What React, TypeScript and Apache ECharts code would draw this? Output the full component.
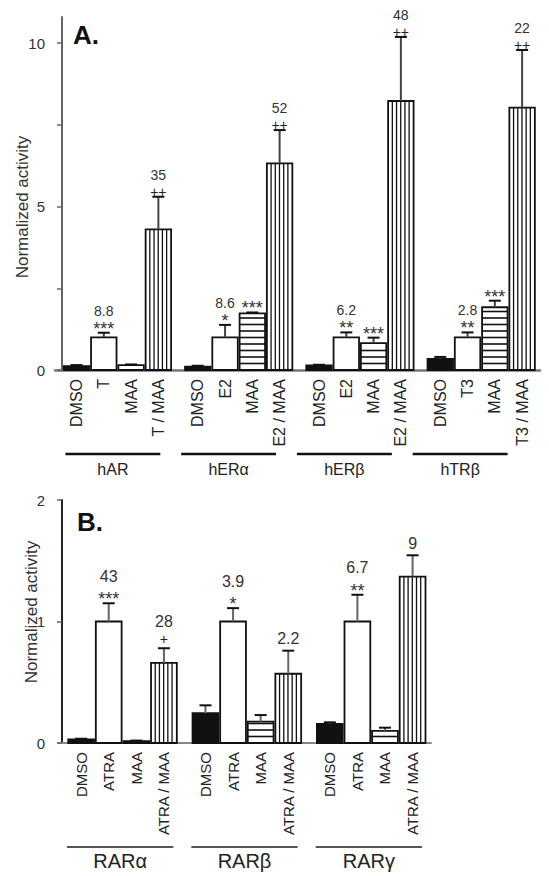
import React, { useEffect, useRef } from 'react';
import * as echarts from 'echarts';

const FONT = '"Liberation Sans", Arial, sans-serif';

// ---------- Panel A data ----------
const groupsA = ['hAR', 'hERα', 'hERβ', 'hTRβ'];
const treatmentsA = [
  ['DMSO', 'T', 'MAA', 'T / MAA'],
  ['DMSO', 'E2', 'MAA', 'E2 / MAA'],
  ['DMSO', 'E2', 'MAA', 'E2 / MAA'],
  ['DMSO', 'T3', 'MAA', 'T3 / MAA'],
];
const valuesA = [
  [0.12, 1.0, 0.15, 4.3],
  [0.1, 1.0, 1.73, 6.32],
  [0.14, 1.0, 0.82, 8.23],
  [0.34, 1.0, 1.92, 8.03],
];
const errorsA = [
  [0.03, 0.14, 0.02, 1.0],
  [0.03, 0.38, 0.03, 1.02],
  [0.02, 0.15, 0.17, 1.96],
  [0.06, 0.15, 0.2, 1.76],
];
const foldA = [
  ['', '8.8', '', '35'],
  ['', '8.6', '', '52'],
  ['', '6.2', '', '48'],
  ['', '2.8', '', '22'],
];
const sigA = [
  ['', '***', '', '++'],
  ['', '*', '***', '++'],
  ['', '**', '***', '++'],
  ['', '**', '***', '++'],
];
const yTicksA = [0, 2.5, 5, 7.5, 10];
const yLabelsA = [0, 5, 10];

// ---------- Panel B data ----------
const groupsB = ['RARα', 'RARβ', 'RARγ'];
const treatmentsB = [
  ['DMSO', 'ATRA', 'MAA', 'ATRA / MAA'],
  ['DMSO', 'ATRA', 'MAA', 'ATRA / MAA'],
  ['DMSO', 'ATRA', 'MAA', 'ATRA / MAA'],
];
const valuesB = [
  [0.03, 1.0, 0.015, 0.66],
  [0.245, 1.0, 0.176, 0.57],
  [0.157, 1.0, 0.1, 1.37],
];
const errorsB = [
  [0.005, 0.15, 0.005, 0.12],
  [0.065, 0.11, 0.054, 0.19],
  [0.013, 0.22, 0.026, 0.175],
];
const foldB = [
  ['', '43', '', '28'],
  ['', '3.9', '', '2.2'],
  ['', '6.7', '', '9'],
];
const sigB = [
  ['', '***', '', '+'],
  ['', '*', '', ''],
  ['', '**', '', ''],
];
const yTicksB = [0, 1, 2];
const yLabelsB = [0, 1, 2];

function toData(values: number[][], errors: number[][]) {
  const out: number[][] = [];
  values.forEach((row, g) => row.forEach((v, b) => out.push([g, b, v, errors[g][b]])));
  return out;
}

type Cfg = {
  start: number;
  slot: number;
  errColor: string;
  labelSize: number;
  labelGap: number;
  numSize: number;
  numOff: number;
  numOffAlone: number;
  starSize: number;
  starOff: number;
  plusSize: number;
  plusOff: number;
  treatments: string[][];
  folds: string[][];
  sigs: string[][];
};

function makeBarRenderer(cfg: Cfg) {
  return (params: any, api: any) => {
    const g = api.value(0);
    const b = api.value(1);
    const v = api.value(2);
    const e = api.value(3);
    const base = api.coord([g, 0]);
    const W = api.size([1, 0])[0];
    const x0 = base[0] - W / 2 + cfg.start * W + b * cfg.slot * W;
    const bw = cfg.slot * W;
    const left = x0 + 0.9;
    const right = x0 + bw - 0.9;
    const cx = (left + right) / 2;
    const y0 = base[1];
    const yTop = api.coord([g, v])[1];
    const yCap = api.coord([g, v + e])[1];
    const children: any[] = [];
    children.push({
      type: 'rect',
      shape: { x: left, y: yTop, width: right - left, height: y0 - yTop },
      style: { fill: b === 0 ? '#111' : '#fff', stroke: 'none' },
    });
    if (b === 3) {
      for (let x = left + 4.2; x < right - 1.5; x += 4.2) {
        children.push({
          type: 'line',
          shape: { x1: x, y1: yTop, x2: x, y2: y0 },
          style: { stroke: '#111', lineWidth: 1.3 },
        });
      }
    }
    if (b === 2) {
      for (let y = y0 - 6.5; y > yTop + 1.5; y -= 6.5) {
        children.push({
          type: 'line',
          shape: { x1: left, y1: y, x2: right, y2: y },
          style: { stroke: '#111', lineWidth: 1.6 },
        });
      }
    }
    children.push({
      type: 'rect',
      shape: { x: left, y: yTop, width: right - left, height: y0 - yTop },
      style: { fill: 'none', stroke: '#111', lineWidth: 1.8 },
    });
    children.push({
      type: 'line',
      shape: { x1: cx, y1: yTop, x2: cx, y2: yCap },
      style: { stroke: cfg.errColor, lineWidth: 2 },
    });
    children.push({
      type: 'line',
      shape: { x1: cx - 6, y1: yCap, x2: cx + 6, y2: yCap },
      style: { stroke: '#111', lineWidth: 2 },
    });
    const num = cfg.folds[g][b];
    const sig = cfg.sigs[g][b];
    if (sig) {
      const isPlus = sig.charAt(0) === '+';
      children.push({
        type: 'text',
        x: cx,
        y: yCap - (isPlus ? cfg.plusOff : cfg.starOff),
        style: {
          text: sig,
          align: 'center',
          verticalAlign: 'middle',
          fontSize: isPlus ? cfg.plusSize : cfg.starSize,
          fontFamily: FONT,
          fill: isPlus ? '#222' : '#333',
        },
      });
    }
    if (num) {
      children.push({
        type: 'text',
        x: cx,
        y: yCap - (sig ? cfg.numOff : cfg.numOffAlone),
        style: {
          text: num,
          align: 'center',
          verticalAlign: 'middle',
          fontSize: cfg.numSize,
          fontFamily: FONT,
          fill: '#333',
        },
      });
    }
    children.push({
      type: 'text',
      x: cx,
      y: y0 + cfg.labelGap,
      rotation: Math.PI / 2,
      style: {
        text: cfg.treatments[g][b],
        align: 'right',
        verticalAlign: 'middle',
        fontSize: cfg.labelSize,
        fontFamily: FONT,
        fill: '#222',
      },
    });
    return { type: 'group', children };
  };
}

function makeUnderline(frac: number, color: string, width: number) {
  return (params: any, api: any) => {
    const c = api.coord([api.value(0), 0]);
    const W = api.size([1, 0])[0];
    return {
      type: 'line',
      shape: { x1: c[0] - (frac * W) / 2, y1: c[1], x2: c[0] + (frac * W) / 2, y2: c[1] },
      style: { stroke: color, lineWidth: width },
    };
  };
}

export default function App() {
  const ref = useRef<HTMLDivElement>(null);
  useEffect(() => {
    if (!ref.current) return;
    const chart = echarts.init(ref.current, undefined, { renderer: 'svg' });
    const option: any = {
      animation: false,
      backgroundColor: '#fff',
      textStyle: { fontFamily: FONT },
      grid: [
        { left: 55, top: 17, width: 485, height: 353 },
        { left: 58, top: 500, width: 373, height: 243 },
        { left: 55, top: 453, width: 463, height: 1 },
        { left: 58, top: 846, width: 373, height: 1 },
      ],
      xAxis: [
        {
          gridIndex: 0,
          type: 'category',
          data: groupsA,
          axisLine: { lineStyle: { color: '#777', width: 2.5 } },
          axisTick: { show: false },
          axisLabel: { show: false },
        },
        {
          gridIndex: 1,
          type: 'category',
          data: groupsB,
          axisLine: { lineStyle: { color: '#888', width: 2 } },
          axisTick: { show: false },
          axisLabel: { show: false },
        },
        {
          gridIndex: 2,
          type: 'category',
          data: groupsA,
          axisLine: { show: false },
          axisTick: { show: false },
          axisLabel: { margin: 7, fontSize: 16, color: '#222', fontFamily: FONT },
        },
        {
          gridIndex: 3,
          type: 'category',
          data: groupsB,
          axisLine: { show: false },
          axisTick: { show: false },
          axisLabel: { margin: 4, fontSize: 20, color: '#222', fontFamily: FONT },
        },
      ],
      yAxis: [
        {
          gridIndex: 0,
          type: 'value',
          min: 0,
          max: 10.8,
          offset: -7,
          axisLine: { show: true, lineStyle: { color: '#666', width: 2 } },
          axisTick: { show: true, length: 5, customValues: yTicksA, lineStyle: { color: '#666', width: 1.5 } },
          axisLabel: { customValues: yLabelsA, margin: 17, fontSize: 15, color: '#333', fontFamily: FONT },
          splitLine: { show: false },
        },
        {
          gridIndex: 1,
          type: 'value',
          min: 0,
          max: 2,
          offset: -4,
          axisLine: { show: true, lineStyle: { color: '#222', width: 2 } },
          axisTick: { show: true, length: 5, customValues: yTicksB, lineStyle: { color: '#666', width: 1.5 } },
          axisLabel: { customValues: yLabelsB, margin: 17, fontSize: 15, color: '#333', fontFamily: FONT },
          splitLine: { show: false },
        },
        { gridIndex: 2, type: 'value', min: 0, max: 1, show: false },
        { gridIndex: 3, type: 'value', min: 0, max: 1, show: false },
      ],
      graphic: [
        {
          type: 'text',
          x: 22,
          y: 207,
          rotation: Math.PI / 2,
          style: { text: 'Normalized activity', align: 'center', verticalAlign: 'middle', fontSize: 17, fill: '#333', fontFamily: FONT },
        },
        {
          type: 'text',
          x: 31,
          y: 612,
          rotation: Math.PI / 2,
          style: { text: 'Normalized activity', align: 'center', verticalAlign: 'middle', fontSize: 17, fill: '#333', fontFamily: FONT },
        },
        {
          type: 'text',
          x: 73,
          y: 35,
          style: { text: 'A.', align: 'left', verticalAlign: 'middle', fontSize: 26, fontWeight: 'bold', fill: '#111', fontFamily: FONT },
        },
        {
          type: 'text',
          x: 77,
          y: 522,
          style: { text: 'B.', align: 'left', verticalAlign: 'middle', fontSize: 26, fontWeight: 'bold', fill: '#111', fontFamily: FONT },
        },
      ],
      series: [
        {
          type: 'custom',
          xAxisIndex: 0,
          yAxisIndex: 0,
          clip: false,
          encode: { x: 0, y: 2 },
          data: toData(valuesA, errorsA),
          renderItem: makeBarRenderer({
            start: 0.065,
            slot: 0.225,
            errColor: '#444',
            labelSize: 16,
            labelGap: 9,
            numSize: 14,
            numOff: 22,
            numOffAlone: 12,
            starSize: 18,
            starOff: 4,
            plusSize: 14,
            plusOff: 5,
            treatments: treatmentsA,
            folds: foldA,
            sigs: sigA,
          }),
        },
        {
          type: 'custom',
          xAxisIndex: 1,
          yAxisIndex: 1,
          clip: false,
          encode: { x: 0, y: 2 },
          data: toData(valuesB, errorsB),
          renderItem: makeBarRenderer({
            start: 0.075,
            slot: 0.222,
            errColor: '#666',
            labelSize: 15,
            labelGap: 9,
            numSize: 16,
            numOff: 27,
            numOffAlone: 12,
            starSize: 18,
            starOff: 4,
            plusSize: 14,
            plusOff: 9,
            treatments: treatmentsB,
            folds: foldB,
            sigs: sigB,
          }),
        },
        {
          type: 'custom',
          xAxisIndex: 2,
          yAxisIndex: 2,
          clip: false,
          data: groupsA.map((_, i) => [i, 0]),
          renderItem: makeUnderline(0.82, '#111', 2.5),
        },
        {
          type: 'custom',
          xAxisIndex: 3,
          yAxisIndex: 3,
          clip: false,
          data: groupsB.map((_, i) => [i, 0]),
          renderItem: makeUnderline(0.855, '#555', 2),
        },
      ],
    };
    chart.setOption(option);
    return () => chart.dispose();
  }, []);
  return (
    <div
      ref={ref}
      style={{ position: 'absolute', left: 0, top: 0, width: 549, height: 876, background: '#fff' }}
    />
  );
}
